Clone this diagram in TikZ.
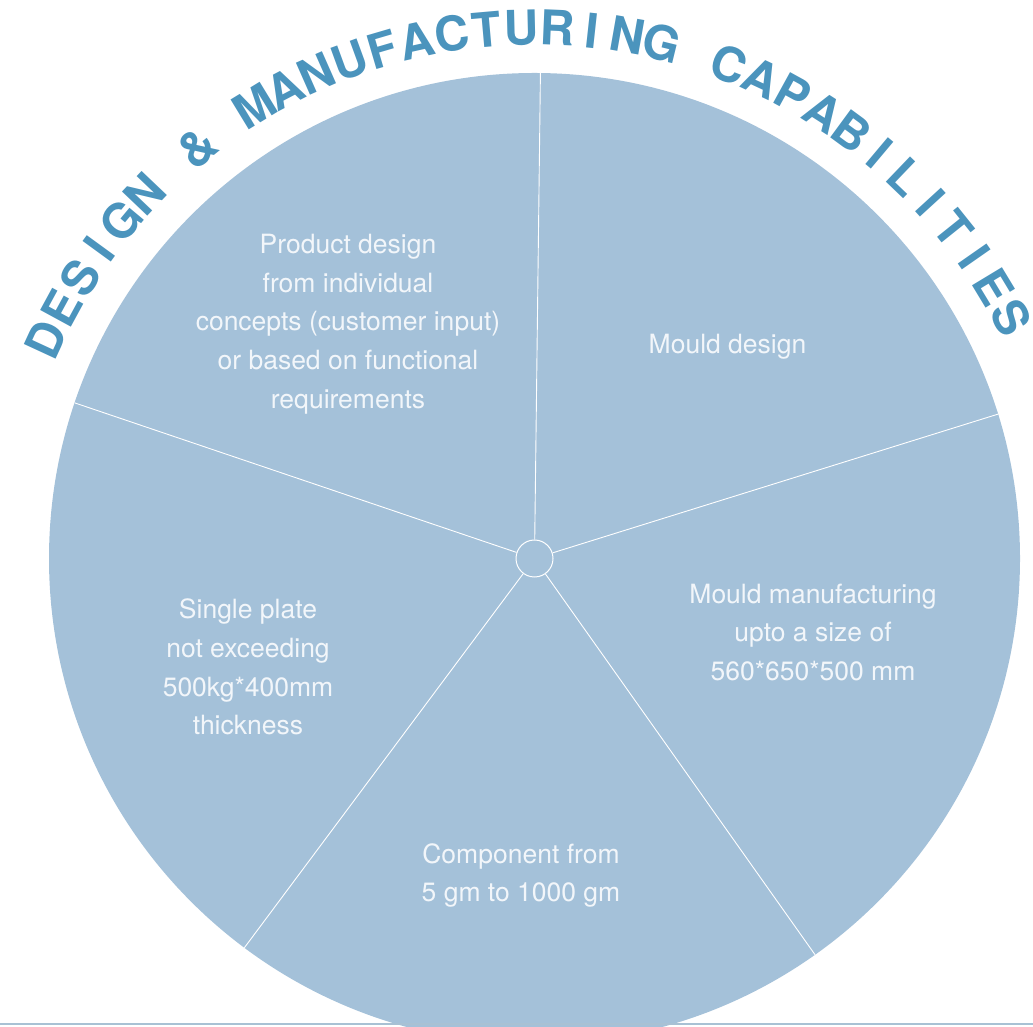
\documentclass[tikz,border=0pt]{standalone}
\usepackage{fontspec}
\setmainfont{TeX Gyre Heros}
\usetikzlibrary{calc}
\definecolor{pie}{RGB}{164,193,217}
\definecolor{ttl}{RGB}{75,148,189}
\definecolor{lbl}{RGB}{242,246,250}
\definecolor{rulec}{RGB}{168,193,212}
\newcommand\ttlfont{\fontsize{48}{48}\selectfont\bfseries}
\newlength\chw
\newlength\totw
\def\titlelist{D/1,E/1,S/1,I/1,G/1,N/1,{\ }/0,{\&}/1,{\ }/0,M/1,A/1,N/1,U/1,F/1,A/1,C/1,T/1,U/1,R/1,I/1,N/1,G/1,{\ }/0,C/1,A/1,P/1,A/1,B/1,I/1,L/1,I/1,T/1,I/1,E/1,S/1}
\begin{document}
\begin{tikzpicture}[x=1pt,y=1pt,
  lab/.style={text=lbl, font=\fontsize{26.5}{38.7}\selectfont, align=center, inner sep=0pt},
  spoke/.style={draw=white, line width=0.9pt},
  hubstyle/.style={circle, draw=white, line width=1pt, minimum size=37pt, inner sep=0pt},
  titlech/.style={text=ttl, font=\ttlfont, inner sep=0pt, anchor=base}]
\useasboundingbox (0,0) rectangle (1033,1026);
\clip (0,0) rectangle (1033,1026);
\coordinate (C) at (534.5,467.5);
\fill[pie] (C) circle[radius=485.5];
\node[hubstyle] (hub) at (C) {};
\foreach \a [count=\i] in {89.3,161.3,233.3,305.3,17.3} {
  \coordinate (p\i) at ($(C)+(\a:485.5)$);
  \draw[spoke] (hub) -- (p\i);
}
\node[lab] (t1) at (348,702) {Product design\\from individual\\concepts (customer input)\\or based on functional\\requirements};
\node[lab] (t2) at (727.5,679.5) {Mould design};
\node[lab] (t3) at (813,393.5) {Mould manufacturing\\upto a size of\\560*650*500 mm};
\node[lab] (t4) at (248,359) {Single plate\\not exceeding\\500kg*400mm\\thickness};
\node[lab] (t5) at (521,150.5) {Component from\\5 gm to 1000 gm};
\draw[rulec, line width=1.5pt] (0,2) -- (1033,2);
% title along an arc
\coordinate (TC) at (534,461);
\global\totw=0pt
\foreach \ch/\vis in \titlelist {
  \settowidth\chw{\ttlfont\ch}
  \global\advance\totw by \chw
}
\pgfmathsetmacro\trk{(1159.9pt-\totw)/34}
\xdef\curpos{0}
\foreach \ch/\vis [count=\i] in \titlelist {
  \settowidth\chw{\ttlfont\ch}
  \pgfmathsetmacro\ang{155.2-(\curpos+0.5*\chw)/520*57.29578}
  \ifnum\vis=1
    \node[titlech, rotate=\ang-90] (tl\i) at ($(TC)+(\ang:520)$) {\ch};
  \fi
  \pgfmathsetmacro\np{\curpos+\chw+\trk}
  \xdef\curpos{\np}
}
\end{tikzpicture}
\end{document}
